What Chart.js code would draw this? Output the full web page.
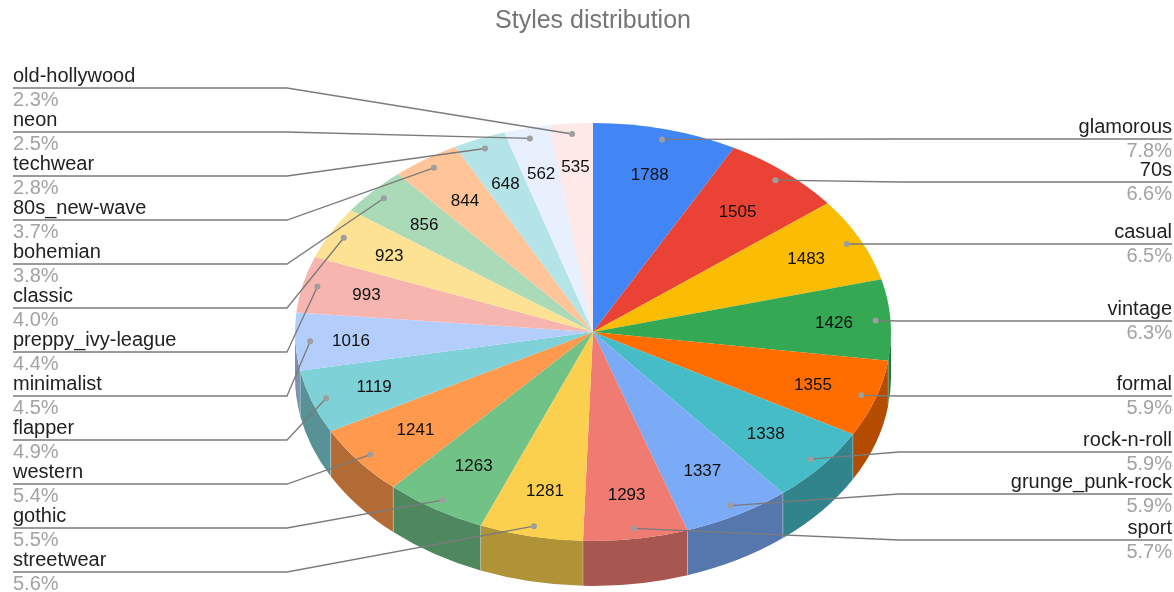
<!DOCTYPE html>
<html>
<head>
<meta charset="utf-8">
<title>Styles distribution</title>
<script src="https://cdn.jsdelivr.net/npm/chart.js@4"></script>
<style>
  html, body { margin: 0; padding: 0; background: #fff; }
  canvas { display: block; }
</style>
</head>
<body>
<canvas id="chart" width="1174" height="592"></canvas>
<script>
// data
const categories = ['glamorous', '70s', 'casual', 'vintage', 'formal', 'rock-n-roll', 'grunge_punk-rock', 'sport',
  'streetwear', 'gothic', 'western', 'flapper', 'minimalist', 'preppy_ivy-league', 'classic', 'bohemian',
  '80s_new-wave', 'techwear', 'neon', 'old-hollywood'];
const styleCounts = [1788, 1505, 1483, 1426, 1355, 1338, 1337, 1293, 1281, 1263, 1241, 1119, 1016, 993, 923, 856, 844, 648, 562, 535];
const percentLabels = ['7.8%', '6.6%', '6.5%', '6.3%', '5.9%', '5.9%', '5.9%', '5.7%', '5.6%', '5.5%', '5.4%', '4.9%',
  '4.5%', '4.4%', '4.0%', '3.8%', '3.7%', '2.8%', '2.5%', '2.3%'];

const sliceColors = ['#4285F4', '#EA4335', '#FBBC04', '#34A853', '#FF6D01', '#46BDC6', '#7BAAF7', '#F07B72',
  '#FCD04F', '#71C287', '#FF994D', '#7ED1D7', '#B3CEFB', '#F7B5B0', '#FDE293', '#AADAB7',
  '#FFC599', '#B5E4E8', '#E8F0FE', '#FDE9E8'];

// how far out each value sits on its slice, as a fraction of the radius
const valueRadius = [0.78, 0.753, 0.798, 0.81, 0.779, 0.755, 0.756, 0.783, 0.773, 0.753, 0.757, 0.779,
  0.813, 0.781, 0.777, 0.767, 0.764, 0.77, 0.781, 0.796];

// leader line rows, right side top to bottom, left side bottom to top
const rightRows = [139, 182, 244, 321, 396, 452, 494, 540];
const leftRowTop = 88, leftRowStep = 44;
const leftElbow = 287, rightElbow = 899, leftEdge = 13, rightEdge = 1172;

const squash = 0.7013;   // height / width of the pie's ellipse
const depth = 45;        // height of the side wall
const fontFamily = '"Liberation Sans", Arial, sans-serif';

function darken(hex, k) {
  const n = parseInt(hex.slice(1), 16);
  const r = Math.round((n >> 16 & 255) * k);
  const g = Math.round((n >> 8 & 255) * k);
  const b = Math.round((n & 255) * k);
  return `rgb(${r},${g},${b})`;
}

// point on the top face at a fraction of the radius, along the slice's middle
function slicePoint(arc, frac) {
  const mid = (arc.startAngle + arc.endAngle) / 2;
  return {
    x: arc.x + Math.cos(mid) * arc.outerRadius * frac,
    y: arc.y + Math.sin(mid) * arc.outerRadius * squash * frac
  };
}

const pie3d = {
  id: 'pie3d',
  beforeDatasetsDraw(chart) {
    const ctx = chart.ctx;
    const arcs = chart.getDatasetMeta(0).data;

    // side wall, only the front half shows
    arcs.forEach((arc, i) => {
      const a0 = Math.max(arc.startAngle, 0);
      const a1 = Math.min(arc.endAngle, Math.PI);
      if (a1 <= a0) return;
      const rx = arc.outerRadius, ry = rx * squash;
      ctx.beginPath();
      ctx.ellipse(arc.x, arc.y, rx, ry, 0, a0, a1);
      ctx.ellipse(arc.x, arc.y + depth, rx, ry, 0, a1, a0, true);
      ctx.closePath();
      ctx.fillStyle = darken(sliceColors[i], 0.7);
      ctx.fill();
    });

    // light seams between the walls
    ctx.strokeStyle = 'rgba(255,255,255,0.3)';
    ctx.lineWidth = 1;
    arcs.forEach(arc => {
      const a = arc.endAngle;
      if (a <= 0 || a >= Math.PI) return;
      const x = arc.x + Math.cos(a) * arc.outerRadius;
      const y = arc.y + Math.sin(a) * arc.outerRadius * squash;
      ctx.beginPath();
      ctx.moveTo(x, y);
      ctx.lineTo(x, y + depth);
      ctx.stroke();
    });

    // squash the round pie into the ellipse
    const first = arcs[0];
    ctx.save();
    ctx.translate(first.x, first.y);
    ctx.scale(1, squash);
    ctx.translate(-first.x, -first.y);
  },
  afterDatasetsDraw(chart) {
    const ctx = chart.ctx;
    ctx.restore();
    const arcs = chart.getDatasetMeta(0).data;

    arcs.forEach((arc, i) => {
      const mid = (arc.startAngle + arc.endAngle) / 2;
      const onRight = mid < Math.PI / 2 && i < rightRows.length;
      const rowY = onRight ? rightRows[i] : leftRowTop + leftRowStep * (arcs.length - 1 - i);
      const dot = slicePoint(arc, 0.95);

      // leader line
      ctx.strokeStyle = '#7b7b7b';
      ctx.lineWidth = 1.3;
      ctx.beginPath();
      ctx.moveTo(dot.x, dot.y);
      ctx.lineTo(onRight ? rightElbow : leftElbow, rowY);
      ctx.lineTo(onRight ? rightEdge : leftEdge, rowY);
      ctx.stroke();

      ctx.fillStyle = '#9e9e9e';
      ctx.beginPath();
      ctx.arc(dot.x, dot.y, 3, 0, Math.PI * 2);
      ctx.fill();

      // name above the line, percent below
      ctx.textAlign = onRight ? 'right' : 'left';
      ctx.textBaseline = 'middle';
      ctx.font = `20px ${fontFamily}`;
      ctx.fillStyle = '#222222';
      ctx.fillText(categories[i], onRight ? rightEdge : leftEdge, rowY - 12);
      ctx.fillStyle = '#a3a3a3';
      ctx.fillText(percentLabels[i], onRight ? rightEdge : leftEdge, rowY + 12);

      // value on the slice
      const p = slicePoint(arc, valueRadius[i]);
      ctx.textAlign = 'center';
      ctx.font = `17px ${fontFamily}`;
      ctx.fillStyle = '#111111';
      ctx.fillText(String(styleCounts[i]), p.x, p.y + 1);
    });
  }
};

new Chart(document.getElementById('chart'), {
  type: 'pie',
  data: {
    labels: categories,
    datasets: [{
      data: styleCounts,
      backgroundColor: sliceColors,
      borderWidth: 0,
      clip: false
    }]
  },
  options: {
    responsive: false,
    animation: false,
    devicePixelRatio: 1,
    radius: 298,
    layout: { padding: { left: 12 } },
    plugins: {
      legend: { display: false },
      tooltip: { enabled: false },
      title: {
        display: true,
        text: 'Styles distribution',
        color: '#757575',
        font: { family: fontFamily, size: 25, weight: 'normal' },
        padding: { top: 6, bottom: 36 }
      }
    }
  },
  plugins: [pie3d]
});
</script>
</body>
</html>
